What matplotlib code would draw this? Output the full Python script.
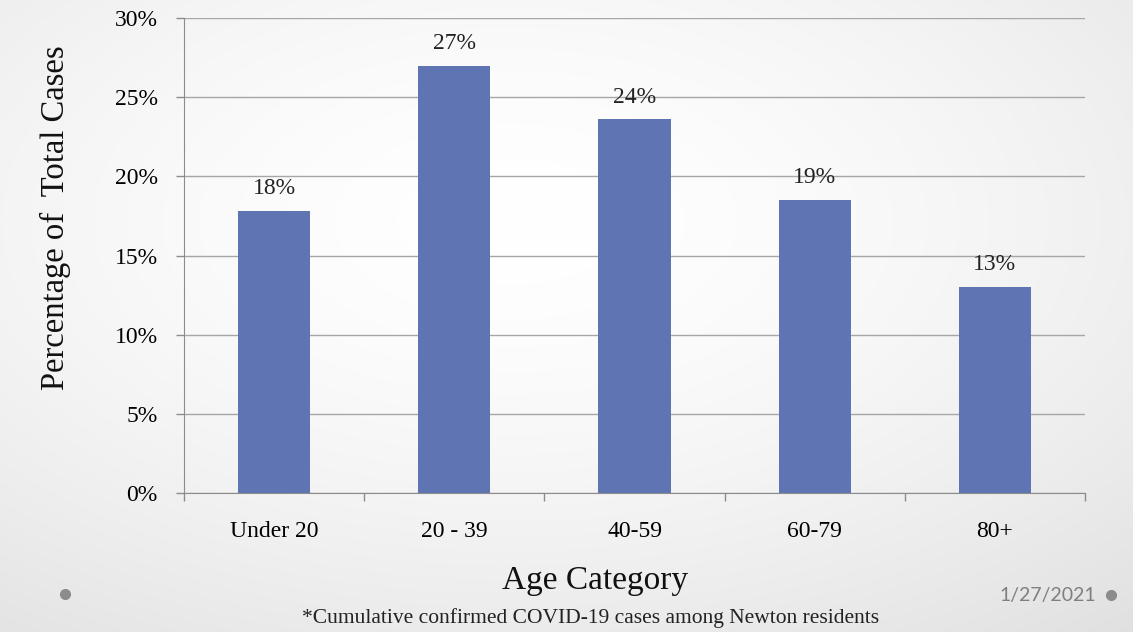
import numpy as np
import matplotlib
matplotlib.use("Agg")
import matplotlib.pyplot as plt

categories = ["Under 20", "20 - 39", "40-59", "60-79", "80+"]
values = [17.8, 27.0, 23.6, 18.5, 13.0]
labels = ["18%", "27%", "24%", "19%", "13%"]
yticks = [0, 5, 10, 15, 20, 25, 30]

W, H = 1133, 632
fig = plt.figure(figsize=(W/100, H/100), dpi=100)

# background gradient
bg = fig.add_axes([0, 0, 1, 1])
yy, xx = np.mgrid[0:H, 0:W]
cx, cy = W*0.45, H*0.35
r = np.sqrt(((xx-cx)/W)**2 + ((yy-cy)/H)**2)
r = r / r.max()
val = 1.0 - 0.12*r**1.6
bg.imshow(np.dstack([val, val, val]), extent=[0, W, H, 0], aspect='auto')
bg.set_xlim(0, W); bg.set_ylim(H, 0)
bg.axis('off')
bg.plot([65], [594], 'o', color='#8c8c8c', ms=7)
bg.plot([1111], [595], 'o', color='#8c8c8c', ms=7)
bg.text(1096, 595, "1/27/2021", ha='right', va='center', fontsize=14,
        color='#7f7f7f', family='Lato')
bg.text(591, 618, "*Cumulative confirmed COVID-19 cases among Newton residents",
        ha='center', va='center', fontsize=15.5, family='Liberation Serif', color='#222222')
bg.text(595, 581, "Age Category", ha='center', va='center', fontsize=24,
        family='Liberation Serif', color='#111111')
bg.text(55, 218, "Percentage of  Total Cases", ha='center', va='center', fontsize=23.5,
        family='Liberation Serif', color='#111111', rotation=90)

ax = fig.add_axes([184/W, 1-493/H, (1085-184)/W, (493-18)/H])
ax.patch.set_alpha(0)
x = np.arange(len(categories))
ax.bar(x, values, width=0.4, color='#5F75B3', zorder=3)
for xi, v, l in zip(x, values, labels):
    ax.annotate(l, (xi, v), xytext=(0, 16), textcoords='offset points',
                ha='center', va='center', fontsize=17, family='Liberation Serif',
                color='#222222', zorder=4)
ax.set_xlim(-0.5, len(categories)-0.5)
ax.set_ylim(0, 30)
ax.set_yticks(yticks)
ax.set_yticklabels([f"{t}%" for t in yticks], family='Liberation Serif', fontsize=17)
ax.set_xticks(x)
ax.set_xticklabels(categories, family='Liberation Serif', fontsize=17)
ax.set_xticks(np.arange(len(categories)+1)-0.5, minor=True)
ax.tick_params(axis='x', which='major', length=0, pad=20)
ax.tick_params(axis='x', which='minor', length=6, color='#8c8c8c', width=1)
ax.tick_params(axis='y', length=6, color='#8c8c8c', width=1, pad=13)
ax.grid(axis='y', color='#a6a6a6', lw=1, zorder=0)
for s in ['top', 'right']:
    ax.spines[s].set_visible(False)
for s in ['left', 'bottom']:
    ax.spines[s].set_color('#8c8c8c')
ax.spines['bottom'].set_zorder(5)

fig.savefig("out.png", dpi=100)
